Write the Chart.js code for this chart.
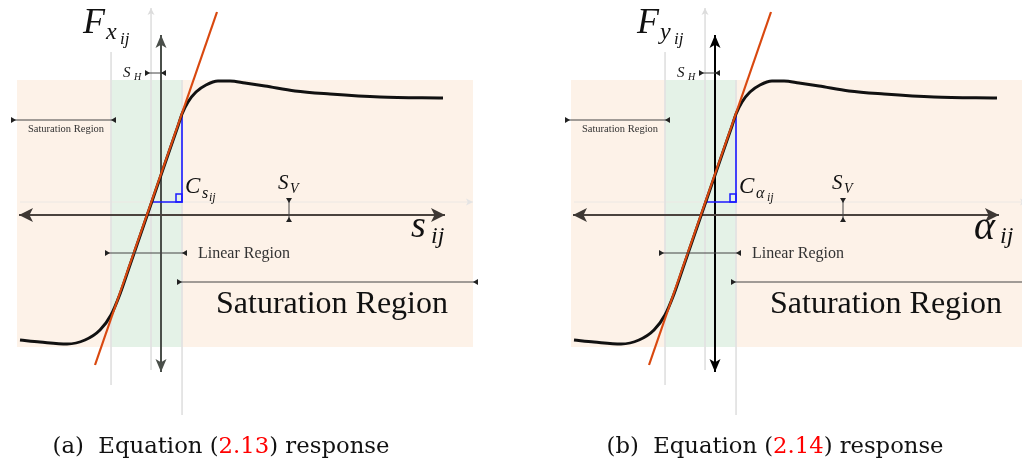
<!DOCTYPE html>
<html>
<head>
<meta charset="utf-8">
<script src="https://cdn.jsdelivr.net/npm/chart.js@4.4.1/dist/chart.umd.min.js"></script>
<style>
  html, body { margin: 0; padding: 0; background: #fff; overflow: hidden; }
  canvas { position: absolute; top: 0; }
  #left { left: 0; }
  #right { left: 554px; }
</style>
</head>
<body>
<canvas id="left" width="511" height="463"></canvas>
<canvas id="right" width="468" height="463"></canvas>
<script>
// tire force curve (slip on x, force on y)
const slip  = [-14.1, -12.1, -9.4, -7.6, -6.1, -5.0, -4.1, -3.1, -2.1, -1.1, -0.1, 0.9, 1.7, 2.1, 2.7, 3.5, 4.5, 5.7, 6.9, 8.4, 10.4, 13.4, 16.9, 21.9, 28.2];
const force = [-12.5, -12.7, -12.9, -12.5, -11.5, -10.0, -7.9, -5.0, -2.1, 0.8, 3.7, 6.6, 8.9, 10.1, 11.3, 12.3, 13.0, 13.4, 13.4, 13.2, 12.9, 12.4, 12.1, 11.8, 11.7];

// tangent (cornering stiffness) line
const tangentX = [-6.6, 5.6];
const tangentY = [-15.0, 20.3];

// stiffness triangle corners
const triX = [-1.0, 2.1, 2.1];
const triY = [1.3, 1.3, 10.2];

// shaded regions
const saturationX = [-14.4, 31.2];
const linearX = [-5.0, 2.1];
const bandY = [13.5, -13.2];

// axes extents
const axisX = [-14.2, 28.4];
const axisY = [18.0, -15.7];
const shiftedY = 1.3;          // S_V offset line
const shiftedX = -1.0;         // S_H offset line

const panels = [
  { id: 'left',  force: 'x', input: 's', inputGreek: false, caption: '(a)', eq: '2.13', vAxis: '#4a4f4a', xMax: 35.0 },
  { id: 'right', force: 'y', input: 'α', inputGreek: true,  caption: '(b)', eq: '2.14', vAxis: '#000000', xMax: 30.7 }
];

const pts = (xs, ys) => xs.map((x, i) => ({ x: x, y: ys[i] }));

function arrowHead(ctx, x, y, dx, dy, len, half, color, notch) {
  const px = -dy, py = dx;
  const n = notch === undefined ? 0.75 : notch;
  ctx.fillStyle = color;
  ctx.beginPath();
  ctx.moveTo(x, y);
  ctx.lineTo(x - dx * len + px * half, y - dy * len + py * half);
  ctx.lineTo(x - dx * len * n, y - dy * len * n);
  ctx.lineTo(x - dx * len - px * half, y - dy * len - py * half);
  ctx.closePath();
  ctx.fill();
}

// dimension line with inward-pointing heads sitting on its ends
function dimLine(ctx, x1, y1, x2, y2) {
  ctx.strokeStyle = '#444';
  ctx.lineWidth = 1;
  ctx.beginPath();
  ctx.moveTo(x1, y1);
  ctx.lineTo(x2, y2);
  ctx.stroke();
  const L = Math.hypot(x2 - x1, y2 - y1);
  const dx = (x2 - x1) / L, dy = (y2 - y1) / L;
  arrowHead(ctx, x1 + dx * 5, y1 + dy * 5, dx, dy, 5, 3, '#222', 1);
  arrowHead(ctx, x2 - dx * 5, y2 - dy * 5, -dx, -dy, 5, 3, '#222', 1);
}

function txt(ctx, s, x, y, font, color, align) {
  ctx.font = font;
  ctx.fillStyle = color || '#111';
  ctx.textAlign = align || 'left';
  ctx.textBaseline = 'alphabetic';
  ctx.fillText(s, x, y);
}

const serif = '"Liberation Serif", "DejaVu Serif", serif';
const capSerif = '"DejaVu Serif", serif';

const overlay = {
  id: 'overlay',
  afterDatasetsDraw(chart) {
    const ctx = chart.ctx;
    const p = chart.options.plugins.overlay.panel;
    const X = v => chart.scales.x.getPixelForValue(v);
    const Y = v => chart.scales.y.getPixelForValue(v);
    ctx.save();

    // axis arrowheads
    arrowHead(ctx, X(axisX[0]), Y(0), -1, 0, 14, 7, '#3e3834');
    arrowHead(ctx, X(axisX[1]), Y(0), 1, 0, 14, 7, '#3e3834');
    arrowHead(ctx, X(0), Y(axisY[0]), 0, -1, 13, 5.5, p.vAxis);
    arrowHead(ctx, X(0), Y(axisY[1]), 0, 1, 13, 5.5, p.vAxis);
    // faint arrowheads on shifted lines
    arrowHead(ctx, X(shiftedX), Y(20.7), 0, -1, 7, 3.5, '#dcdcdc');
    arrowHead(ctx, X(31.2), Y(shiftedY), 1, 0, 7, 3.5, '#e4e4e4');

    // right-angle mark
    ctx.strokeStyle = '#1a1aff';
    ctx.lineWidth = 1.5;
    ctx.strokeRect(X(1.5), Y(2.1), X(2.1) - X(1.5), Y(1.3) - Y(2.1));

    // dimension markers
    dimLine(ctx, X(-1.6), Y(14.2), X(0.5), Y(14.2));           // S_H
    dimLine(ctx, X(12.8), Y(1.7), X(12.8), Y(-0.7));           // S_V
    dimLine(ctx, X(-15.0), Y(9.5), X(-4.5), Y(9.5));           // small saturation
    dimLine(ctx, X(-5.6), Y(-3.8), X(2.6), Y(-3.8));           // linear
    dimLine(ctx, X(1.6), Y(-6.7), X(31.7), Y(-6.7));           // big saturation

    // region labels
    txt(ctx, 'Saturation Region', X(-9.5), Y(8.3), '10.5px ' + serif, '#333', 'center');
    txt(ctx, 'Linear Region', X(3.7), Y(-4.3), '16px ' + serif, '#333');
    txt(ctx, 'Saturation Region', X(5.5), Y(-9.8), '32px ' + serif, '#111');

    // math labels
    const it = s => 'italic ' + s + 'px ' + serif;
    txt(ctx, 'F', X(-7.8), Y(18.2), it(36));
    txt(ctx, p.force, X(-5.5), Y(17.6), it(24));
    txt(ctx, 'ij', X(-4.1), Y(17.1), it(17));

    txt(ctx, 'S', X(-3.8), Y(13.8), it(15));
    txt(ctx, 'H', X(-2.7), Y(13.5), it(10));

    txt(ctx, 'C', X(2.4), Y(2.2), it(23));
    txt(ctx, p.input, X(4.1), Y(1.7), it(16));
    txt(ctx, 'ij', X(p.inputGreek ? 5.2 : 4.8), Y(1.4), it(12));

    txt(ctx, 'S', X(11.7), Y(2.6), it(21));
    txt(ctx, 'V', X(12.9), Y(2.2), it(14));

    txt(ctx, p.input, X(p.inputGreek ? 25.9 : 25.0), Y(p.inputGreek ? -2.4 : -2.2), it(p.inputGreek ? 40 : 38));
    txt(ctx, 'ij', X(p.inputGreek ? 28.5 : 27.0), Y(-2.8), it(24));

    // caption, fitted to the width it has in the picture
    const a = p.caption + '  Equation (', b = p.eq, c = ') response';
    ctx.font = '22px ' + capSerif;
    const w0 = ctx.measureText(a + b + c).width;
    const size = 22 * 337 / w0;
    const f = size.toFixed(2) + 'px ' + capSerif;
    ctx.font = f;
    const wa = ctx.measureText(a).width, wb = ctx.measureText(b).width, wc = ctx.measureText(c).width;
    let cx = X(6.0) - (wa + wb + wc) / 2;
    const cy = Y(-23.8);
    txt(ctx, a, cx, cy, f, '#111'); cx += wa;
    txt(ctx, b, cx, cy, f, '#ff0000'); cx += wb;
    txt(ctx, c, cx, cy, f, '#111');

    ctx.restore();
  }
};

function line(data, color, width, order, extra) {
  return Object.assign({
    data: data, showLine: true, borderColor: color, borderWidth: width,
    pointRadius: 0, fill: false, order: order, tension: 0
  }, extra || {});
}

panels.forEach(p => {
  new Chart(document.getElementById(p.id), {
    type: 'scatter',
    data: {
      datasets: [
        line(pts(saturationX, [bandY[0], bandY[0]]), 'rgba(0,0,0,0)', 0, 20,
             { fill: { value: bandY[1] }, backgroundColor: '#fdf2e8' }),
        line(pts(linearX, [bandY[0], bandY[0]]), 'rgba(0,0,0,0)', 0, 19,
             { fill: { value: bandY[1] }, backgroundColor: '#e4f2e7' }),
        line(pts([linearX[0], linearX[0]], [16.3, -17.0]), '#e2e2e2', 1, 18),
        line(pts([shiftedX, shiftedX], [20.7, -15.5]), '#e2e2e2', 1, 18),
        line(pts([linearX[1], linearX[1]], [bandY[0], -20.0]), '#e2e2e2', 1, 18),
        line(pts([-14.1, 31.2], [shiftedY, shiftedY]), '#ece8e4', 1, 18),
        line(pts(axisX, [0, 0]), '#4a433e', 2, 17),
        line(pts([0, 0], axisY), p.vAxis, 2, 17),
        line(pts(triX, triY), '#1a1aff', 1.6, 6),
        line(pts(slip, force), '#111111', 3, 5, { cubicInterpolationMode: 'monotone' }),
        line(pts(tangentX, tangentY), '#d9480f', 2.2, 4)
      ]
    },
    options: {
      responsive: false,
      animation: false,
      events: [],
      layout: { padding: 0 },
      scales: {
        x: { type: 'linear', display: false, min: -16.1, max: p.xMax },
        y: { type: 'linear', display: false, min: -24.8, max: 21.5 }
      },
      plugins: {
        legend: { display: false },
        tooltip: { enabled: false },
        overlay: { panel: p }
      }
    },
    plugins: [overlay]
  });
});
</script>
</body>
</html>
